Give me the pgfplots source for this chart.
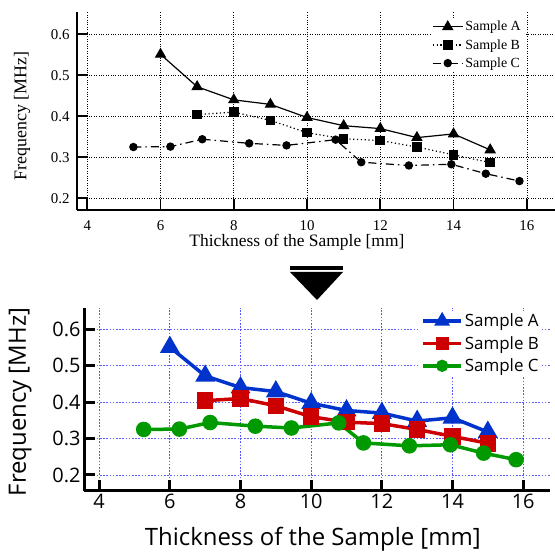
\documentclass[border=0pt]{standalone}
\usepackage{fontspec}
\setmainfont{Liberation Serif}
\newfontfamily\osans{Open Sans}
\usepackage{pgfplots}
\usepackage{pgfplotstable}
\pgfplotsset{compat=1.18}

\definecolor{cA}{RGB}{0,51,204}
\definecolor{cB}{RGB}{204,0,0}
\definecolor{cC}{RGB}{0,153,0}
\definecolor{gridblue}{RGB}{90,90,255}

% Thickness [mm] vs frequency [MHz]
\pgfplotstableread{
x y
6 0.551
7 0.472
8 0.440
9 0.429
10 0.397
11 0.377
12 0.370
13 0.348
14 0.357
15 0.318
}\dataA
\pgfplotstableread{
x y
7 0.404
8 0.410
9 0.390
10 0.360
11 0.345
12 0.341
13 0.325
14 0.306
15 0.287
}\dataB
\pgfplotstableread{
x y
5.26 0.325
6.27 0.326
7.14 0.344
8.42 0.334
9.44 0.329
10.78 0.343
11.48 0.288
12.78 0.280
13.94 0.283
14.88 0.260
15.80 0.242
}\dataC

\begin{document}
\begin{tikzpicture}[x=1bp,y=1bp]
\path[use as bounding box] (0,0) rectangle (555,554);

% ---- top chart (black, serif)
\begin{axis}[
  at={(77bp,344bp)}, anchor=south west,
  scale only axis, width=478bp, height=198.3bp,
  xmin=3.72, xmax=16.77, ymin=0.1715, ymax=0.655,
  axis lines=left, axis line style={-, line width=1.8bp},
  xtick={4,6,...,16}, ytick={0.2,0.3,0.4,0.5,0.6},
  tick align=inside, major tick length=11bp,
  tick style={line width=1.8bp, black},
  grid=major, grid style={line width=0.6bp, black, dash pattern=on 0.8bp off 1.6bp},
  /pgf/number format/assume math mode=true,
  ticklabel style={font=\fontsize{15}{15}\selectfont},
  xticklabel style={yshift=-7bp},
  yticklabel style={xshift=-4bp, /pgf/number format/.cd, fixed, fixed zerofill, precision=1},
  xlabel={Thickness of the Sample [mm]},
  ylabel={Frequency [MHz]},
  every axis x label/.style={at={(axis description cs:0.46,-0.185)}, anchor=base, font=\fontsize{17.5}{17.5}\selectfont},
  every axis y label/.style={at={(axis description cs:-0.115,0.474)}, anchor=center, rotate=90, font=\fontsize{18}{18}\selectfont},
  legend style={at={(0.935,0.968)}, anchor=north east, draw=none, fill=white,
    font=\fontsize{14}{14}\selectfont, row sep=3bp, inner sep=1bp},
  legend cell align=left,
  legend image code/.code={\draw[mark repeat=2,mark phase=2,#1] plot coordinates {(0bp,0bp) (15bp,0bp) (30bp,0bp)};},
]
\addplot[black, line width=1.2bp, mark=triangle*, mark size=5.5bp, mark options={solid}] table {\dataA};
\addlegendentry{Sample A}
\addplot[black, line width=1.2bp, dash pattern=on 1.2bp off 2.6bp, mark=square*, mark size=4.2bp, mark options={solid}] table {\dataB};
\addlegendentry{Sample B}
\addplot[black, line width=1.2bp, dash pattern=on 8bp off 4bp on 1.5bp off 4bp, mark=*, mark size=3.6bp, mark options={solid}] table {\dataC};
\addlegendentry{Sample C}
\end{axis}

% ---- arrow between the charts
\fill[black] (290,284) rectangle (343,288);
\fill[black] (290,282) -- (343,282) -- (317,254) -- cycle;

% ---- bottom chart (colour, sans)
\begin{axis}[
  at={(84bp,63bp)}, anchor=south west,
  scale only axis, width=466bp, height=183bp,
  xmin=3.57, xmax=16.76, ymin=0.156, ymax=0.6585,
  axis lines=left, axis line style={-, line width=3bp},
  xtick={4,6,...,16}, ytick={0.2,0.3,0.4,0.5,0.6},
  tick align=inside, major tick length=11bp,
  tick style={line width=3bp, black},
  grid=major, grid style={line width=0.8bp, gridblue, dash pattern=on 1.6bp off 1.6bp},
  /pgf/number format/assume math mode=true,
  ticklabel style={font=\osans\fontsize{20}{20}\selectfont},
  yticklabel style={/pgf/number format/.cd, fixed, fixed zerofill, precision=1},
  xlabel={Thickness of the Sample [mm]},
  ylabel={Frequency [MHz]},
  every axis x label/.style={at={(axis description cs:0.491,-0.300)}, anchor=base, font=\osans\fontsize{24}{24}\selectfont},
  every axis y label/.style={at={(axis description cs:-0.137,0.486)}, anchor=center, rotate=90, font=\osans\fontsize{24}{24}\selectfont},
  legend style={at={(0.983,0.985)}, anchor=north east, draw=none, fill=white,
    font=\osans\fontsize{17}{17}\selectfont, row sep=4bp, inner sep=1bp},
  legend cell align=left,
  legend image code/.code={\draw[mark repeat=2,mark phase=2,mark options={scale=0.72},#1] plot coordinates {(0bp,0bp) (19bp,0bp) (38bp,0bp)};},
]
\addplot[cA, line width=3.5bp, mark=triangle*, mark size=8bp] table {\dataA};
\addlegendentry{Sample A}
\addplot[cB, line width=3.5bp, mark=square*, mark size=6.5bp] table {\dataB};
\addlegendentry{Sample B}
\addplot[cC, line width=3.5bp, mark=*, mark size=6bp] table {\dataC};
\addlegendentry{Sample C}
\end{axis}
\end{tikzpicture}
\end{document}
